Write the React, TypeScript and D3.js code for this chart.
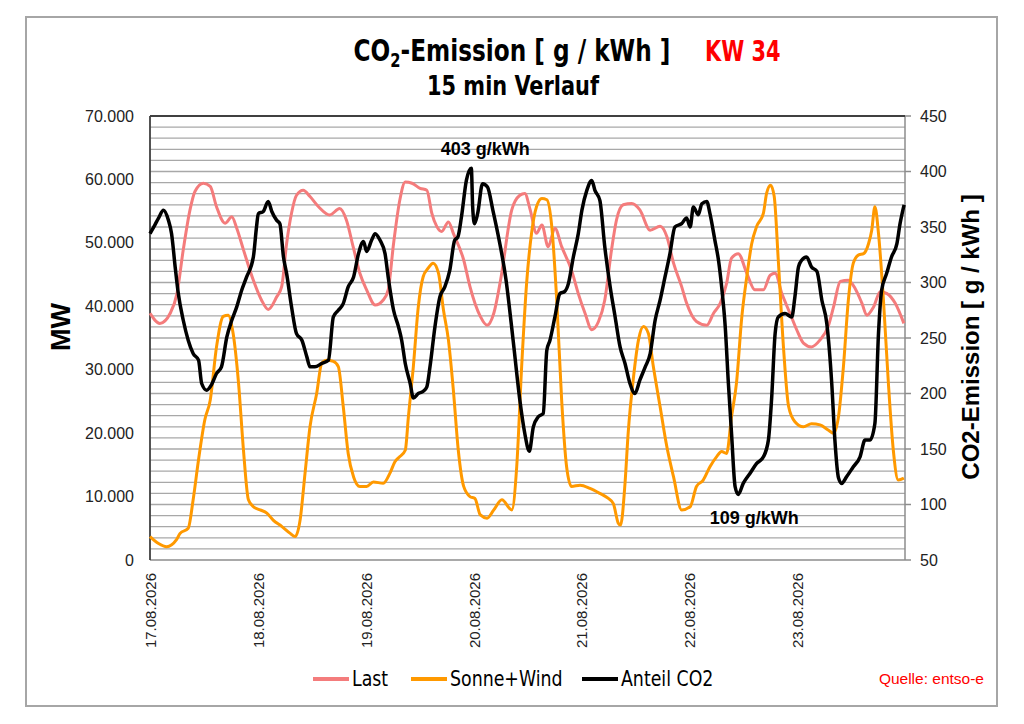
import * as d3 from 'd3';

// 15-min profile as [hours since 17.08. 00:00, value]
const lastPts: [number, number][] = [
  [0, 38.9], [2.2, 37.3], [4.5, 38.9], [6, 42], [7.4, 48.9], [8.9, 55.2], [10, 58.1], [11.9, 59.4], [13.4, 58.9],
  [14.8, 55.7], [16.7, 53.1], [18.2, 54.1], [19.3, 52.3], [20.8, 48.9], [23, 44.1], [24.8, 41], [26.3, 39.5],
  [28.2, 41.5], [29.3, 43.1], [30.4, 49.9], [31.5, 54.7], [32.6, 57.5], [34.1, 58.3], [35.6, 57.3], [37.5, 55.7],
  [40, 54.4], [42.2, 55.4], [43.7, 53.6], [45.2, 49.4], [46.7, 45.2], [48.2, 42.6], [50.1, 40.2], [51.9, 41],
  [53, 42.6], [54.2, 49.9], [55.6, 56.8], [56.8, 59.6], [58.3, 59.4], [60.1, 58.6], [61.6, 58.3], [62.7, 54.7],
  [63.8, 52.6], [64.9, 51.8], [66.4, 53.3], [67.5, 51.5], [69.8, 47.3], [71.2, 43.1], [73.5, 38.4], [75, 37],
  [76.5, 38.9], [78, 44.1], [80.5, 55.2], [82.3, 57.5], [83.4, 57.8], [84.6, 55.2], [86, 51.5], [87.2, 52.8],
  [88.6, 49.4], [90.1, 52.3], [91.6, 49.4], [93.8, 45.7], [95.3, 42], [96.8, 38.9], [98.3, 36.3], [99.8, 37.6],
  [101.2, 41], [102.7, 48.9], [103.8, 53.6], [105.3, 56], [107.2, 56.2], [109, 55.2], [111.3, 52], [113.5, 52.6],
  [115, 51], [116.5, 46.8], [118.3, 43.1], [119.4, 40.5], [121.6, 37.6], [123.9, 37], [125.4, 38.9], [126.9, 40.5],
  [128.3, 43.6], [129.4, 47.6], [130.9, 48.3], [132.8, 45.2], [134.6, 42.6], [136.5, 42.6], [138, 44.9],
  [139.1, 45.2], [140.6, 42], [142.4, 38.9], [143.9, 36.3], [145.4, 34.2], [147.2, 33.6], [149.1, 34.7],
  [150.9, 36.8], [152.1, 39.9], [153.6, 43.9], [155.4, 44.1], [156.9, 42.8], [158.4, 40.5], [159.5, 38.6],
  [161, 39.9], [162.5, 42.3], [164, 42], [165.8, 40.5], [167.75, 37.3],
];

const sonneWindPts: [number, number][] = [
  [0, 3.7], [1.9, 2.6], [3.7, 2.1], [5.9, 3.2], [6.7, 4.2], [8.5, 5], [9.6, 9.5], [10.8, 15.8], [12.2, 22.1],
  [13.4, 25.2], [14.8, 33.6], [16.3, 38.4], [17.4, 38.6], [18.5, 35.7], [19.7, 27.9], [20.8, 17.3], [21.9, 9.5],
  [23, 8.4], [24.5, 7.9], [26, 7.4], [27.4, 6.3], [29.3, 5.3], [31.2, 4.2], [32.3, 3.7], [33.4, 6.3],
  [34.5, 13.7], [35.6, 21], [37.1, 26.3], [38.2, 31], [39.3, 31.5], [40.8, 31.3], [41.9, 30.5], [43, 24.2],
  [44.1, 16.8], [45.3, 13.1], [46.7, 11.6], [48.2, 11.6], [49.7, 12.3], [51.9, 12.1], [53.4, 13.7], [54.5, 15.5],
  [55.6, 16.3], [56.8, 17.3], [57.5, 22.6], [58.6, 30.5], [59.7, 39.9], [60.8, 44.7], [61.9, 46], [63, 46.8],
  [64.2, 45.2], [65.3, 39.4], [66.4, 34.7], [67.5, 26.8], [68.6, 17.3], [69.8, 11.6], [71.2, 10], [72.3, 9.7],
  [73.5, 7.1], [75, 6.6], [76.5, 7.9], [78.3, 9.5], [80.5, 7.9], [81.6, 14.7], [82.7, 30.5], [83.8, 43.6],
  [84.9, 51.5], [86, 55.7], [87.2, 57], [88.3, 56.8], [89.4, 52.6], [90.5, 41], [91.6, 25.2], [92.7, 14.7],
  [93.8, 11.6], [95.7, 11.8], [97.9, 11.3], [100.1, 10.5], [102, 9.7], [103.1, 8.9], [104.2, 5.8], [104.7, 5.5],
  [105.7, 12.1], [106.4, 20], [107.6, 28.9], [108.7, 34.7], [109.8, 36.8], [110.9, 35.7], [112, 30.5],
  [113.5, 24.2], [115, 17.9], [116.5, 13.1], [118.3, 7.9], [120.2, 8.4], [121.6, 11.6], [123.1, 12.6],
  [124.6, 14.7], [126.1, 16.3], [127.2, 17.1], [128.3, 16.8], [129.4, 22.6], [130.5, 27.9], [131.7, 38.4],
  [132.8, 44.7], [133.9, 49.9], [135, 52.6], [136.5, 54.7], [137.2, 57.8], [138.1, 59.1], [138.9, 57.3],
  [139.8, 47.3], [141, 33.1], [142.1, 24.2], [143.5, 21.8], [145.4, 21], [147.2, 21.5], [149.1, 21.3],
  [150.9, 20.5], [152.1, 20], [153.2, 22.6], [154.3, 30.5], [155.4, 41], [156.5, 46.8], [157.7, 48.1],
  [158.8, 48.3], [159.9, 49.9], [160.6, 52], [161.3, 55.7], [162.1, 51.5], [163.2, 41], [164.3, 27.9],
  [165.4, 17.3], [166.5, 12.6], [167.75, 12.9],
];

// g/kWh, right axis
const co2Pts: [number, number][] = [
  [0, 344], [1.1, 352], [1.9, 358], [3, 365], [4.1, 356], [4.8, 344], [5.6, 314], [6.3, 290], [7.4, 266],
  [8.5, 248], [9.6, 236], [10.8, 230], [11.5, 209], [12.6, 203], [13.7, 208], [14.8, 218], [15.9, 224],
  [17.1, 251], [18.2, 266], [19.3, 278], [20.4, 293], [21.5, 305], [23, 323], [23.7, 350], [24.1, 362],
  [25.2, 364], [26.3, 373], [27.1, 364], [28.2, 356], [28.9, 353], [29.7, 323], [30.4, 308], [31.5, 278],
  [32.6, 254], [33.8, 248], [34.9, 233], [35.6, 224], [36.7, 224], [38.2, 227], [39.7, 230], [40.8, 269],
  [41.9, 275], [43, 281], [44.1, 296], [45.3, 305], [46.4, 326], [47.5, 337], [48.2, 328], [49.3, 338],
  [50.1, 344], [51.2, 338], [52.3, 326], [53, 305], [54.2, 275], [55.3, 260], [56, 248], [56.8, 227],
  [57.9, 209], [58.6, 196], [59.7, 200], [60.8, 202], [61.6, 206], [62.3, 224], [63.4, 260], [64.5, 287],
  [65.6, 296], [66.7, 311], [67.8, 338], [68.5, 341], [69.3, 359], [70.4, 392], [71.5, 403], [71.8, 368],
  [72.2, 353], [72.9, 362], [74, 389], [75.1, 386], [76.3, 365], [77.4, 344], [79.2, 303], [80.8, 248],
  [82.3, 194], [83.4, 164], [84.4, 148], [85.3, 170], [86.4, 179], [87.5, 182], [88.3, 239], [89, 248],
  [90.1, 269], [91.2, 290], [92.3, 292], [93.1, 299], [94.2, 323], [95.3, 344], [96.1, 365], [97.2, 383],
  [98.3, 392], [99, 383], [100.1, 374], [101.2, 332], [102.4, 296], [103.5, 269], [104.6, 242], [105.7, 227],
  [106.8, 209], [107.9, 200], [109, 212], [110.2, 224], [111.3, 236], [112.4, 266], [113.5, 284], [114.6, 305],
  [115.7, 326], [116.8, 350], [118.3, 353], [119.4, 358], [120.2, 350], [120.9, 368], [122, 361], [122.8, 371],
  [123.9, 373], [124.6, 362], [125.7, 338], [126.5, 320], [127.2, 296], [128, 260], [128.7, 209], [129.4, 164],
  [130.2, 116], [130.9, 109], [132, 119], [133.5, 128], [135, 137], [136.5, 143], [137.6, 158], [138.3, 194],
  [139.1, 254], [139.8, 269], [141.3, 272], [142.8, 269], [143.5, 287], [144.3, 314], [145, 320], [146.1, 323],
  [147.2, 314], [148.4, 310], [149.5, 284], [150.6, 263], [151.7, 209], [152.4, 158], [153.2, 124], [153.9, 119],
  [155, 125], [156.5, 134], [158, 143], [159.1, 158], [160.2, 158], [161.3, 173], [162.1, 254], [162.8, 293],
  [163.9, 308], [165, 323], [166.2, 335], [166.9, 353], [167.8, 370],
];

const dateLabels = ['17.08.2026', '18.08.2026', '19.08.2026', '20.08.2026', '21.08.2026', '22.08.2026', '23.08.2026'];
const mwTicks = [0, 10000, 20000, 30000, 40000, 50000, 60000, 70000];
const co2Ticks = [50, 100, 150, 200, 250, 300, 350, 400, 450];
const co2Grid = d3.range(60, 450, 10);

const legendItems = [
  { label: 'Last', color: '#f47c7c', x: 313 },
  { label: 'Sonne+Wind', color: '#ff9900', x: 411 },
  { label: 'Anteil CO2', color: '#000000', x: 582 },
];

const W = 1024;
const H = 724;
const plot = { left: 150, right: 905, top: 116, bottom: 560 };

// no Calibri here: a condensed face, squeezed a bit more with scaleX
const narrow = '"DejaVu Sans Condensed", "Liberation Sans", sans-serif';
const arial = '"Liberation Sans", Arial, sans-serif';

export default function App() {
  const x = d3.scaleLinear().domain([0, 168]).range([plot.left, plot.right]);
  const yL = d3.scaleLinear().domain([0, 70000]).range([plot.bottom, plot.top]);
  const yR = d3.scaleLinear().domain([50, 450]).range([plot.bottom, plot.top]);

  const mwLine = d3.line<[number, number]>()
    .x(d => x(d[0]))
    .y(d => yL(d[1] * 1000))
    .curve(d3.curveMonotoneX);
  const co2Line = d3.line<[number, number]>()
    .x(d => x(d[0]))
    .y(d => yR(d[1]))
    .curve(d3.curveMonotoneX);

  const fmt = (v: number) => d3.format(',')(v).replace(/,/g, '.');

  const maxPt = co2Pts.reduce((a, b) => (b[1] > a[1] ? b : a));
  const minPt = co2Pts.reduce((a, b) => (b[1] < a[1] ? b : a));

  return (
    <svg width={W} height={H} style={{ position: 'absolute', left: 0, top: 0, background: '#fff' }}>
      <rect x={26} y={17} width={971} height={689} fill="#fff" stroke="#a6a6a6" strokeWidth={2} />

      {/* titles */}
      <g transform="translate(512, 61) scale(0.86, 1)">
        <text textAnchor="middle" fontFamily={narrow} fontWeight="bold" fontSize={30} fill="#000">
          CO<tspan fontSize={19} dy={6}>2</tspan><tspan dy={-6}>-Emission [ g / kWh ]</tspan>
        </text>
      </g>
      <g transform="translate(705, 61) scale(0.8, 1)">
        <text fontFamily={narrow} fontWeight="bold" fontSize={29} fill="#ff0000">KW 34</text>
      </g>
      <g transform="translate(513, 95) scale(0.86, 1)">
        <text textAnchor="middle" fontFamily={narrow} fontWeight="bold" fontSize={27} fill="#000">15 min Verlauf</text>
      </g>

      {/* grid */}
      {co2Grid.map(v => (
        <line key={v} x1={plot.left} x2={plot.right} y1={yR(v)} y2={yR(v)} stroke="#a8a8a8" strokeWidth={1.3} />
      ))}
      <line x1={plot.left} x2={plot.right} y1={plot.bottom} y2={plot.bottom} stroke="#8c8c8c" strokeWidth={1.5} />
      <line x1={plot.right} x2={plot.right} y1={plot.top} y2={plot.bottom} stroke="#8c8c8c" strokeWidth={1.5} />
      <line x1={plot.left} x2={plot.right} y1={plot.top} y2={plot.top} stroke="#404040" strokeWidth={1.8} />
      <line x1={plot.left} x2={plot.left} y1={plot.top} y2={plot.bottom} stroke="#404040" strokeWidth={1.8} />

      {/* left axis */}
      {mwTicks.map(v => (
        <text key={v} x={134} y={yL(v)} dy="0.35em" textAnchor="end" fontFamily={arial} fontSize={16} fill="#222">
          {fmt(v)}
        </text>
      ))}
      <text transform={`translate(70, 327) rotate(-90)`} textAnchor="middle" fontFamily={arial} fontWeight="bold" fontSize={27} fill="#000">MW</text>

      {/* right axis */}
      {co2Ticks.map(v => (
        <g key={v}>
          <line x1={plot.right} x2={plot.right + 6} y1={yR(v)} y2={yR(v)} stroke="#8c8c8c" strokeWidth={1.5} />
          <text x={920} y={yR(v)} dy="0.35em" fontFamily={arial} fontSize={16} fill="#222">{v}</text>
        </g>
      ))}
      <text transform={`translate(979, 337) rotate(-90)`} textAnchor="middle" fontFamily={arial} fontWeight="bold" fontSize={24} fill="#000">
        CO2-Emission [ g / kWh ]
      </text>

      {/* x axis */}
      {dateLabels.map((d, i) => (
        <text key={d} transform={`translate(${x(i * 24) + 6}, 573) rotate(-90)`} textAnchor="end" fontFamily={arial} fontSize={15} fill="#222">
          {d}
        </text>
      ))}

      {/* series */}
      <path d={mwLine(lastPts) ?? ''} fill="none" stroke="#f47c7c" strokeWidth={3} strokeLinejoin="round" />
      <path d={mwLine(sonneWindPts) ?? ''} fill="none" stroke="#ff9900" strokeWidth={3} strokeLinejoin="round" />
      <path d={co2Line(co2Pts) ?? ''} fill="none" stroke="#000" strokeWidth={3.5} strokeLinejoin="round" />

      {/* annotations */}
      <text x={x(maxPt[0]) + 14} y={yR(maxPt[1]) - 13} textAnchor="middle" fontFamily={arial} fontWeight="bold" fontSize={18} fill="#000">
        {maxPt[1]} g/kWh
      </text>
      <text x={x(minPt[0]) + 16} y={yR(minPt[1]) + 29} textAnchor="middle" fontFamily={arial} fontWeight="bold" fontSize={18} fill="#000">
        {minPt[1]} g/kWh
      </text>

      {/* legend */}
      {legendItems.map(it => (
        <g key={it.label}>
          <line x1={it.x} x2={it.x + 36} y1={679} y2={679} stroke={it.color} strokeWidth={4} />
          <g transform={`translate(${it.x + 39}, 686) scale(0.92, 1)`}>
            <text fontFamily={narrow} fontSize={21} fill="#000">{it.label}</text>
          </g>
        </g>
      ))}
      <text x={984} y={684} textAnchor="end" fontFamily={arial} fontSize={15.5} fill="#ff0000">Quelle: entso-e</text>
    </svg>
  );
}
